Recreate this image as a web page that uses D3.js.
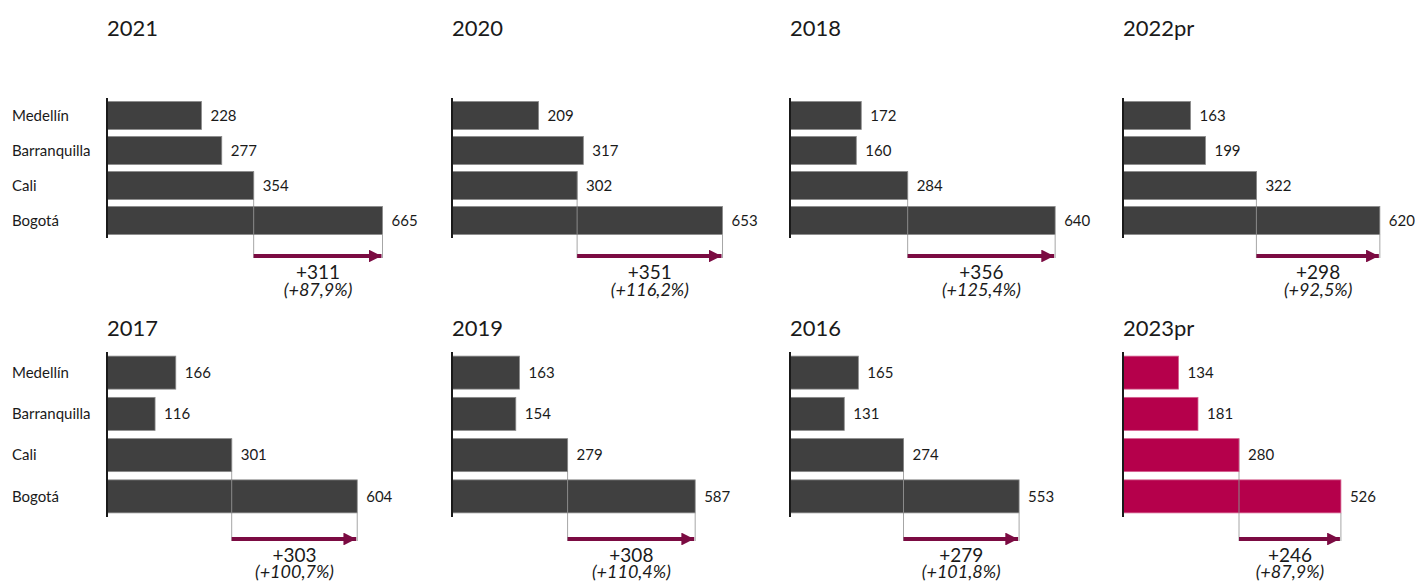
<!DOCTYPE html>
<html>
<head>
<meta charset="utf-8">
<script src="https://cdn.jsdelivr.net/npm/d3@7"></script>
<style>
  body { margin: 0; background: #fff; }
  svg text { font-family: Lato, "Open Sans", sans-serif; fill: #1a1a1a; }
</style>
</head>
<body>
<div id="chart"></div>
<script>
// panel order as laid out: row 1 then row 2
const years = ['2021', '2020', '2018', '2022pr', '2017', '2019', '2016', '2023pr'];
const cities = ['Medellín', 'Barranquilla', 'Cali', 'Bogotá'];
const medellin = [228, 209, 172, 163, 166, 163, 165, 134];
const barranquilla = [277, 317, 160, 199, 116, 154, 131, 181];
const cali = [354, 302, 284, 322, 301, 279, 274, 280];
const bogota = [665, 653, 640, 620, 604, 587, 553, 526];
const highlightYear = '2023pr';

const W = 1415, H = 582;
const colX = [107, 452, 790, 1123];
const rows = [
    { titleY: 36, top: 98, bottom: 238, arrowY: 256, diffY: 279, pctY: 296 },
    { titleY: 336, top: 352, bottom: 517, arrowY: 539, diffY: 562, pctY: 578 }
];

const fmt = d3.format('.1f');

const svg = d3.select('#chart').append('svg')
    .attr('width', W)
    .attr('height', H);

const defs = svg.append('defs');
defs.append('marker')
    .attr('id', 'arrowhead')
    .attr('viewBox', '0 0 10 10')
    .attr('refX', 10).attr('refY', 5)
    .attr('markerWidth', 3.2).attr('markerHeight', 3.2)
    .attr('markerUnits', 'strokeWidth')
    .attr('orient', 'auto')
    .append('path')
    .attr('d', 'M0,0 L10,5 L0,10 Z')
    .attr('fill', '#7b0b42');

const x = d3.scaleLinear().domain([0, 700]).range([0, 290]);

years.forEach((year, i) => {
    const row = rows[Math.floor(i / 4)];
    const x0 = colX[i % 4];
    const values = [medellin[i], barranquilla[i], cali[i], bogota[i]];
    const data = cities.map((c, k) => ({ city: c, value: values[k] }));

    const y = d3.scaleBand()
        .domain(cities)
        .range([row.top, row.bottom])
        .paddingInner(0.2)
        .paddingOuter(0.1);

    const isHi = year === highlightYear;
    const g = svg.append('g').attr('class', 'panel')
        .attr('transform', `translate(${x0},0)`);

    g.append('text')
        .attr('x', 0)
        .attr('y', row.titleY)
        .style('font-size', '22px')
        .text(year);

    // bracket lines from Cali and Bogotá bar ends down to the arrow
    const xCali = x(cali[i]), xBog = x(bogota[i]);
    g.append('line')
        .attr('x1', xCali).attr('x2', xCali)
        .attr('y1', y('Cali')).attr('y2', row.arrowY + 2)
        .attr('stroke', '#a6a6a6').attr('stroke-width', 1);

    g.selectAll('.bar')
        .data(data)
        .join('rect')
        .attr('class', 'bar')
        .attr('x', 0)
        .attr('y', d => y(d.city))
        .attr('width', d => x(d.value))
        .attr('height', y.bandwidth())
        .attr('fill', isHi ? '#b5004b' : '#404040')
        .attr('stroke', isHi ? '#d4608f' : '#8a8a8a')
        .attr('stroke-width', 0.8);

    // redraw the Cali line over the Bogotá bar
    g.append('line')
        .attr('x1', xCali).attr('x2', xCali)
        .attr('y1', y('Bogotá')).attr('y2', y('Bogotá') + y.bandwidth())
        .attr('stroke', '#8a8a8a').attr('stroke-width', 1);

    g.append('line')
        .attr('x1', xBog).attr('x2', xBog)
        .attr('y1', y('Bogotá') + y.bandwidth()).attr('y2', row.arrowY + 2)
        .attr('stroke', '#a6a6a6').attr('stroke-width', 1);

    g.selectAll('.val')
        .data(data)
        .join('text')
        .attr('class', 'val')
        .attr('x', d => x(d.value) + 9)
        .attr('y', d => y(d.city) + y.bandwidth() / 2)
        .attr('dy', '0.35em')
        .style('font-size', '15px')
        .text(d => d.value);

    // axis line
    const axis = d3.axisLeft(y).tickSize(0).tickFormat('');
    g.append('g')
        .call(axis)
        .call(a => a.select('.domain')
            .attr('stroke', '#1a1a1a')
            .attr('stroke-width', 2)
            .attr('d', `M0,${row.top}V${row.bottom}`));

    // arrow
    g.append('line')
        .attr('x1', xCali).attr('x2', xBog - 1)
        .attr('y1', row.arrowY).attr('y2', row.arrowY)
        .attr('stroke', '#7b0b42')
        .attr('stroke-width', 4)
        .attr('marker-end', 'url(#arrowhead)');

    const diff = bogota[i] - cali[i];
    const pct = diff / cali[i] * 100;
    const mid = (xCali + xBog) / 2;
    g.append('text')
        .attr('x', mid).attr('y', row.diffY)
        .attr('text-anchor', 'middle')
        .style('font-size', '19px')
        .text('+' + diff);
    g.append('text')
        .attr('x', mid).attr('y', row.pctY)
        .attr('text-anchor', 'middle')
        .style('font-size', '18px')
        .style('font-style', 'italic')
        .text('(+' + fmt(pct).replace('.', ',') + '%)');

    if (i % 4 === 0) {
        svg.selectAll(null)
            .data(cities)
            .join('text')
            .attr('x', 12)
            .attr('y', d => y(d) + y.bandwidth() / 2)
            .attr('dy', '0.35em')
            .style('font-size', '15px')
            .text(d => d);
    }
});
</script>
</body>
</html>
